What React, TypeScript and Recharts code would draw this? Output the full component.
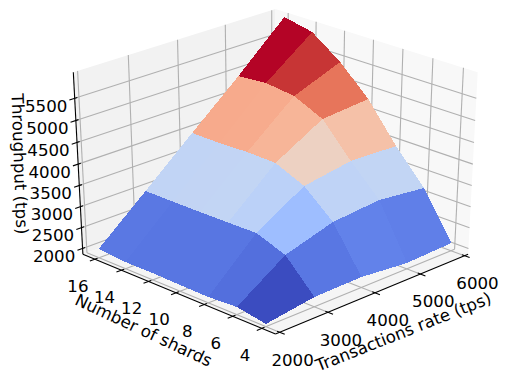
import React from 'react';
import { ScatterChart, Scatter, XAxis, YAxis } from 'recharts';

const rates = [2000, 3000, 4000, 5000, 6000];
const shards = [4, 6, 8, 10, 12, 14, 16];
const throughputAt2000 = [1922, 2039, 1998, 2008, 2024, 2020, 2070];
const throughputAt3000 = [2091, 2806, 3058, 3047, 3041, 3040, 3042];
const throughputAt4000 = [2111, 3146, 3734, 4026, 4044, 4021, 4025];
const throughputAt5000 = [2001, 3244, 3915, 4657, 4964, 5046, 4993];
const throughputAt6000 = [2047, 3118, 3875, 4749, 5390, 5873, 6017];
const zs = [throughputAt2000, throughputAt3000, throughputAt4000, throughputAt5000, throughputAt6000];
const zTicks = [2000, 2500, 3000, 3500, 4000, 4500, 5000, 5500];

const RL = [1917, 6083], SL = [3.08, 16.92], ZL = [1860, 6080];
const EL = (29 * Math.PI) / 180, AZ = (225 * Math.PI) / 180, DIST = 10;
const SX = 2790, OX = 275.5, SY = 2079, OY = 165.4;
const n = [Math.cos(EL) * Math.cos(AZ), Math.cos(EL) * Math.sin(AZ), Math.sin(EL)];
const un = Math.hypot(n[1], n[0]);
const u = [-n[1] / un, n[0] / un, 0];
const v = [n[1] * u[2] - n[2] * u[1], n[2] * u[0] - n[0] * u[2], n[0] * u[1] - n[1] * u[0]];
function proj(r: number, s: number, z: number) {
  const p = [(r - RL[0]) / (RL[1] - RL[0]) - 0.5, (s - SL[0]) / (SL[1] - SL[0]) - 0.5, (z - ZL[0]) / (ZL[1] - ZL[0]) - 0.5];
  const dot = (a: number[]) => a[0] * p[0] + a[1] * p[1] + a[2] * p[2];
  const d = DIST - dot(n);
  return { x: OX + (SX * dot(u)) / d, y: OY - (SY * dot(v)) / d, d };
}
const red = [0.2298057,0.26623388,0.30386891,0.342804478,0.38301334,0.424369608,0.46666708,0.509635204,0.552953156,0.596262162,0.639176211,0.681291281,0.722193294,0.761464949,0.798691636,0.833466556,0.865395197,0.897787179,0.924127593,0.944468518,0.958852946,0.96732803,0.969954137,0.966811177,0.958003065,0.943660866,0.923944917,0.89904617,0.869186849,0.834620542,0.795631745,0.752534934,0.705673158];
const green = [0.298717966,0.353094838,0.406535296,0.458757618,0.50941904,0.558148092,0.604562568,0.648280772,0.688929332,0.726149107,0.759599947,0.788964712,0.813952739,0.834302879,0.849786142,0.860207984,0.86541021,0.848937047,0.827384882,0.800927443,0.769767752,0.734132809,0.694266682,0.650421156,0.602842431,0.551750968,0.49730856,0.439559467,0.378313092,0.312874446,0.24128379,0.157246067,0.01555616];
const blue = [0.753683153,0.801466763,0.84495867,0.883725899,0.917387822,0.945619588,0.968154911,0.98478814,0.995375608,0.999836203,0.998151185,0.990363227,0.976574709,0.956945269,0.931688648,0.901068838,0.865395561,0.820880546,0.774508472,0.726736146,0.678007945,0.628751763,0.579375448,0.530263762,0.481775914,0.434243684,0.387970225,0.343229596,0.300267182,0.259301199,0.220525627,0.184115123,0.150232812];
function coolwarm(t: number) {
  const f = Math.max(0, Math.min(1, t)) * 32, i = Math.min(31, Math.floor(f)), k = f - i;
  const c = (a: number[]) => Math.round(255 * (a[i] + (a[i + 1] - a[i]) * k));
  return `rgb(${c(red)},${c(green)},${c(blue)})`;
}
type P = { x: number; y: number; d?: number };
const poly = (pts: P[], fill: string, crisp = false) => {
  const c = pts.reduce((a, p) => ({ x: a.x + p.x / pts.length, y: a.y + p.y / pts.length }), { x: 0, y: 0 });
  return { x: c.x, y: c.y, pts, fill, crisp };
};
const seg = (a: P, b: P, stroke: string, w: number) => ({ x: (a.x + b.x) / 2, y: (a.y + b.y) / 2, a, b, stroke, w });

const [r0, r1] = RL, [s0, s1] = SL, [z0, z1] = ZL;
const panes = [
  poly([proj(r0, s1, z0), proj(r1, s1, z0), proj(r1, s1, z1), proj(r0, s1, z1)], '#f2f2f2'),
  poly([proj(r1, s0, z0), proj(r1, s1, z0), proj(r1, s1, z1), proj(r1, s0, z1)], '#f8f8f8'),
  poly([proj(r0, s0, z0), proj(r1, s0, z0), proj(r1, s1, z0), proj(r0, s1, z0)], '#f5f5f5'),
];
const GRID = '#b0b0b0';
const grid = [
  ...rates.flatMap((r) => [seg(proj(r, s1, z0), proj(r, s1, z1), GRID, 1.1), seg(proj(r, s0, z0), proj(r, s1, z0), GRID, 1.1)]),
  ...shards.flatMap((s) => [seg(proj(r1, s, z0), proj(r1, s, z1), GRID, 1.1), seg(proj(r0, s, z0), proj(r1, s, z0), GRID, 1.1)]),
  ...zTicks.flatMap((z) => [seg(proj(r0, s1, z), proj(r1, s1, z), GRID, 1.1), seg(proj(r1, s0, z), proj(r1, s1, z), GRID, 1.1)]),
];
const dr = r1 - r0, ds = s1 - s0;
const axes = [
  seg(proj(r0, s0, z0), proj(r1, s0, z0), '#000', 1.1),
  seg(proj(r0, s0, z0), proj(r0, s1, z0), '#000', 1.1),
  seg(proj(r0, s1, z0), proj(r0, s1, z1), '#000', 1.1),
  ...rates.map((r) => seg(proj(r, s0 - ds * 0.025, z0), proj(r, s0 + ds * 0.0125, z0), '#000', 1.1)),
  ...shards.map((s) => seg(proj(r0 - dr * 0.025, s, z0), proj(r0 + dr * 0.0125, s, z0), '#000', 1.1)),
  ...zTicks.map((z) => seg(proj(r0 - dr * 0.025, s1, z), proj(r0 + dr * 0.0125, s1, z), '#000', 1.1)),
];
const raw: { pts: P[]; m: number; d: number }[] = [];
for (let i = 0; i < rates.length - 1; i++) for (let j = 0; j < shards.length - 1; j++) {
  const q = [[i, j], [i + 1, j], [i + 1, j + 1], [i, j + 1]];
  const pts = q.map(([a, b]) => proj(rates[a], shards[b], zs[a][b]));
  raw.push({ pts, m: q.reduce((t, [a, b]) => t + zs[a][b] / 4, 0), d: pts.reduce((t, p) => t + (p.d || 0) / 4, 0) });
}
const mn = Math.min(...raw.map((f) => f.m)), mx = Math.max(...raw.map((f) => f.m));
const faces = raw.sort((a, b) => b.d - a.d).map((f) => poly(f.pts, coolwarm((f.m - mn) / (mx - mn)), true));

const PolyShape = (p: any) => {
  const d = p.payload, ox = p.cx - d.x, oy = p.cy - d.y;
  return <polygon points={d.pts.map((q: P) => `${q.x + ox},${q.y + oy}`).join(' ')} fill={d.fill} shapeRendering={d.crisp ? 'crispEdges' : undefined} />;
};
const SegShape = (p: any) => {
  const d = p.payload, ox = p.cx - d.x, oy = p.cy - d.y;
  return <line x1={d.a.x + ox} y1={d.a.y + oy} x2={d.b.x + ox} y2={d.b.y + oy} stroke={d.stroke} strokeWidth={d.w} />;
};
const TextShape = (p: any) => {
  const d = p.payload;
  return <text x={p.cx} y={p.cy} textAnchor="middle" dominantBaseline="central" fontFamily="DejaVu Sans" fontSize={d.size} fill="#000" transform={d.rot ? `rotate(${d.rot} ${p.cx} ${p.cy})` : undefined}>{d.label}</text>;
};
const FONT = 16.67;
const lab = (x: number, y: number, label: string, size = FONT, rot = 0) => ({ x, y, label, size, rot });
const rateLabelPos = rates.map((r) => { const p = proj(r, s0, z0); return lab(p.x + 13, p.y + 28, String(r)); });
const shardLabelPos = shards.map((s) => { const p = proj(r0, s, z0); return lab(p.x - 17, p.y + 27, String(s)); });
const zLabelPos = zTicks.map((z) => { const p = proj(r0, s1, z); return lab(p.x - 28.5, p.y + 8, String(z)); });
const titles = [
  lab(143.5, 330.5, 'Number of shards', FONT, 25),
  lab(403.5, 332, 'Transactions rate (tps)', FONT, -21.6),
  lab(19.5, 164, 'Throughput (tps)', FONT, 88),
];

export default function App() {
  return (
    <div style={{ position: 'absolute', left: 0, top: 0, width: 510, height: 381 }}>
      <ScatterChart width={510} height={381} margin={{ top: 0, right: 0, bottom: 0, left: 0 }}>
        <XAxis type="number" dataKey="x" domain={[0, 510]} hide />
        <YAxis type="number" dataKey="y" domain={[0, 381]} reversed hide />
        <Scatter data={panes} shape={PolyShape} isAnimationActive={false} />
        <Scatter data={grid} shape={SegShape} isAnimationActive={false} />
        <Scatter data={axes} shape={SegShape} isAnimationActive={false} />
        <Scatter data={faces} shape={PolyShape} isAnimationActive={false} />
        <Scatter data={[...rateLabelPos, ...shardLabelPos, ...zLabelPos, ...titles]} shape={TextShape} isAnimationActive={false} />
      </ScatterChart>
    </div>
  );
}
